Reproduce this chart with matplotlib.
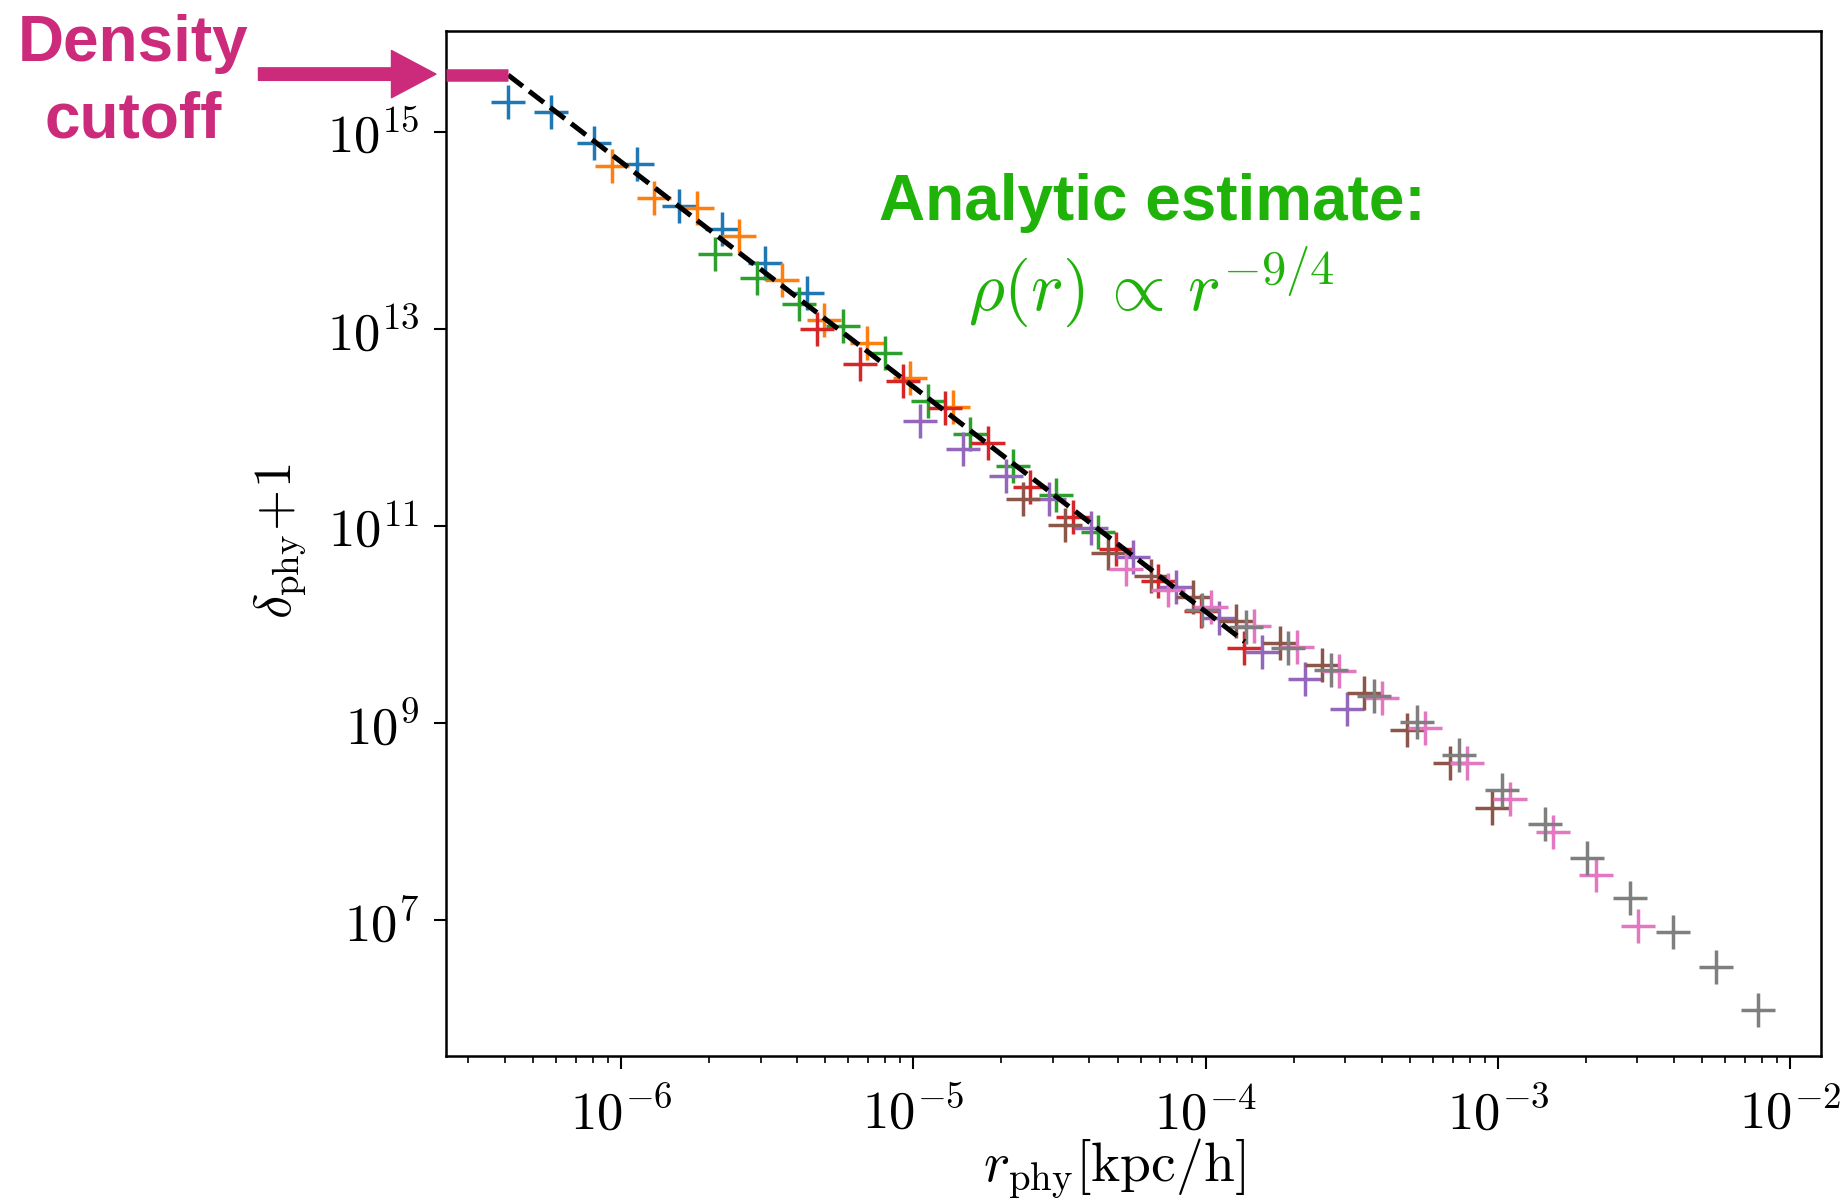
import numpy as np
import matplotlib.pyplot as plt
from matplotlib.ticker import LogLocator, NullLocator

plt.rcParams['mathtext.fontset'] = 'cm'

# data: (r_phy [kpc/h], delta_phy + 1), one run per colour
r_blue = [4.11e-7, 5.76e-7, 8.08e-7, 1.13e-6, 1.58e-6, 2.22e-6, 3.11e-6, 4.32e-6]
d_blue = [2.00e15, 1.59e15, 7.73e14, 4.70e14, 1.79e14, 1.04e14, 4.65e13, 2.34e13]

r_orange = [9.29e-7, 1.30e-6, 1.82e-6, 2.54e-6, 3.56e-6, 4.95e-6, 6.96e-6, 9.74e-6, 1.37e-5]
d_orange = [4.55e14, 2.15e14, 1.68e14, 8.79e13, 3.15e13, 1.23e13, 7.16e12, 3.20e12, 1.63e12]

r_green = [2.09e-6, 2.91e-6, 4.07e-6, 5.74e-6, 8.00e-6, 1.12e-5, 1.56e-5, 2.20e-5, 3.08e-5, 4.29e-5]
d_green = [5.77e13, 3.27e13, 1.79e13, 1.08e13, 5.75e12, 1.87e12, 8.53e11, 4.10e11, 2.06e11, 8.75e10]

r_red = [4.70e-6, 6.57e-6, 9.20e-6, 1.28e-5, 1.80e-5, 2.51e-5, 3.51e-5, 4.94e-5, 6.89e-5, 9.65e-5, 1.35e-4]
d_red = [9.93e12, 4.38e12, 2.97e12, 1.57e12, 7.01e11, 2.46e11, 1.24e11, 5.84e10, 2.78e10, 1.38e10, 5.81e9]

r_purple = [1.05e-5, 1.48e-5, 2.07e-5, 2.90e-5, 4.05e-5, 5.66e-5, 7.90e-5, 1.11e-4, 1.56e-4, 2.18e-4, 3.05e-4]
d_purple = [1.17e12, 6.05e11, 3.24e11, 1.89e11, 9.48e10, 4.88e10, 2.42e10, 1.16e10, 5.26e9, 2.78e9, 1.39e9]

r_brown = [2.38e-5, 3.30e-5, 4.65e-5, 6.49e-5, 9.08e-5, 1.27e-4, 1.79e-4, 2.50e-4, 3.49e-4, 4.88e-4, 6.86e-4, 9.57e-4]
d_brown = [1.87e11, 1.02e11, 5.36e10, 3.11e10, 1.92e10, 1.09e10, 6.45e9, 3.88e9, 2.00e9, 8.49e8, 3.90e8, 1.38e8]

r_pink = [5.33e-5, 7.46e-5, 1.04e-4, 1.46e-4, 2.05e-4, 2.87e-4, 4.02e-4, 5.63e-4, 7.86e-4, 1.10e-3,
          1.54e-3, 2.16e-3, 3.02e-3]
d_pink = [3.64e10, 2.24e10, 1.50e10, 9.54e9, 5.95e9, 3.37e9, 1.78e9, 8.84e8, 3.90e8, 1.68e8,
          7.77e7, 2.86e7, 8.75e6]

r_gray = [9.70e-5, 1.37e-4, 1.92e-4, 2.69e-4, 3.77e-4, 5.28e-4, 7.38e-4, 1.03e-3, 1.45e-3, 2.02e-3,
          2.83e-3, 3.96e-3, 5.56e-3, 7.78e-3]
d_gray = [1.40e10, 9.50e9, 5.77e9, 3.45e9, 1.89e9, 1.02e9, 4.73e8, 2.09e8, 9.50e7, 4.23e7,
          1.66e7, 7.50e6, 3.36e6, 1.22e6]

runs = [(r_blue, d_blue), (r_orange, d_orange), (r_green, d_green), (r_red, d_red),
        (r_purple, d_purple), (r_brown, d_brown), (r_pink, d_pink), (r_gray, d_gray)]

# analytic r^-9/4 line, end points
r_fit = [4.11e-7, 1.36e-4]
d_fit = [3.79e15, 6.69e9]

# density cutoff level
d_cut = 3.79e15

x_ticks = [1e-6, 1e-5, 1e-4, 1e-3, 1e-2]
x_labels = [r'$10^{-6}$', r'$10^{-5}$', r'$10^{-4}$', r'$10^{-3}$', r'$10^{-2}$']
y_ticks = [1e7, 1e9, 1e11, 1e13, 1e15]
y_labels = [r'$10^{7}$', r'$10^{9}$', r'$10^{11}$', r'$10^{13}$', r'$10^{15}$']

magenta = '#cc2a7b'
green = '#1fb30a'

fig = plt.figure(figsize=(18.48, 11.99), dpi=100)
ax = fig.add_axes([0.2411, 0.1193, 0.7443, 0.8548])

for r, d in runs:
    ax.plot(r, d, '+', ms=25, mew=2.5)

ax.plot(r_fit, d_fit, 'k--', lw=3.6, zorder=5)

ax.set_xscale('log')
ax.set_yscale('log')
ax.set_xlim(2.51e-7, 1.274e-2)
ax.set_ylim(4.16e5, 1.06e16)

# cutoff bar from the left spine to the start of the fit
ax.plot([2.51e-7, r_fit[0]], [d_cut, d_cut], color=magenta, lw=9,
        solid_capstyle='butt', clip_on=False, zorder=6)

ax.set_xticks(x_ticks, labels=x_labels)
ax.set_yticks(y_ticks, labels=y_labels)
ax.xaxis.set_minor_locator(LogLocator(base=10, subs=np.arange(2, 10), numticks=20))
ax.xaxis.set_minor_formatter(plt.NullFormatter())
ax.yaxis.set_minor_locator(NullLocator())
ax.tick_params(which='major', length=9, width=1.5, labelsize=38)
ax.tick_params(axis='x', which='major', pad=14)
ax.tick_params(axis='y', which='major', pad=10)
ax.tick_params(which='minor', length=5, width=1.2)
for s in ax.spines.values():
    s.set_linewidth(1.8)

ax.set_xlabel(r'$r_{\rm phy}[{\rm kpc/h}]$', fontsize=40)
ax.set_ylabel(r'$\delta_{\rm phy}\!+\!1$', fontsize=38)
ax.xaxis.set_label_coords(0.486, -0.079)
ax.yaxis.set_label_coords(-0.099, 0.502)

# annotations
fig.text(133 / 1848, 1 - 61 / 1199, 'Density', color=magenta, fontsize=46,
         fontweight='bold', family='Liberation Sans', ha='center', va='baseline')
fig.text(133 / 1848, 1 - 137 / 1199, 'cutoff', color=magenta, fontsize=46,
         fontweight='bold', family='Liberation Sans', ha='center', va='baseline')
ax.annotate('', xy=(-0.007, 0.958), xytext=(-0.136, 0.958),
            xycoords='axes fraction', textcoords='axes fraction',
            arrowprops=dict(width=9, headwidth=34, headlength=32,
                            color=magenta, shrink=0),
            annotation_clip=False)

fig.text(1152 / 1848, 1 - 220 / 1199, 'Analytic estimate:', color=green, fontsize=46,
         fontweight='bold', family='Liberation Sans', ha='center', va='baseline')
fig.text(1151 / 1848, 1 - 310 / 1199, r'$\rho(r)\,\propto\,r^{-9/4}$', color=green,
         fontsize=50, ha='center', va='baseline')

fig.savefig('out.png', dpi=100)
